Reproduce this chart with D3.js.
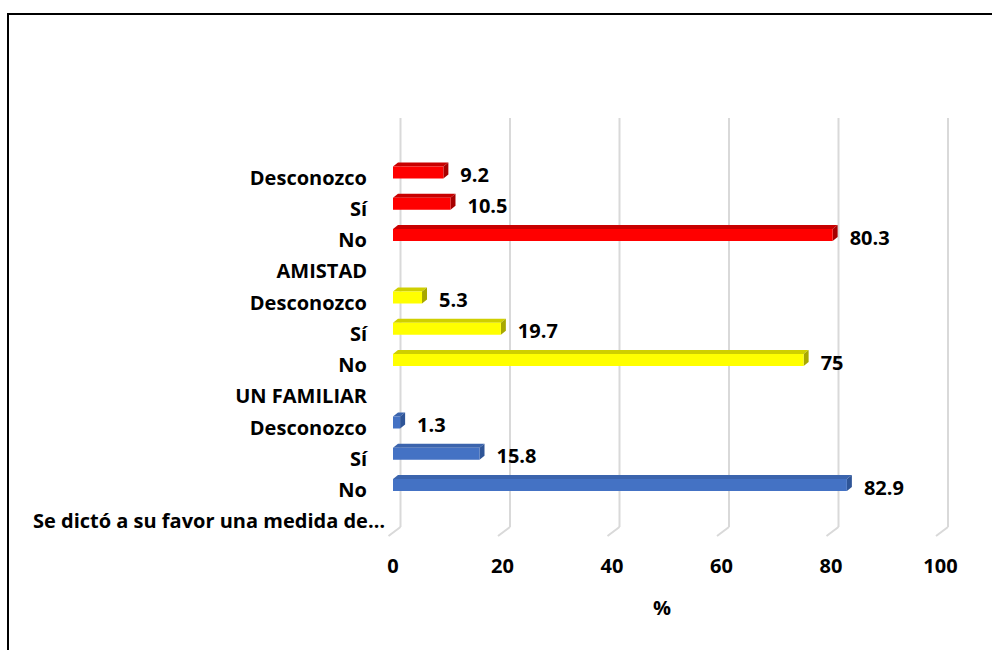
<!DOCTYPE html>
<html><head><meta charset="utf-8">
<script src="https://cdn.jsdelivr.net/npm/d3@7/dist/d3.min.js"></script>
<style>
html,body{margin:0;padding:0;background:#fff;}
svg{display:block;}
text{font-family:"Open Sans",sans-serif;font-weight:bold;fill:#000;}
</style></head>
<body>
<svg id="chart" width="992" height="650"></svg>
<script>
// Categories listed top to bottom as drawn
const categories = ["Desconozco","Sí","No","AMISTAD","Desconozco","Sí","No","UN FAMILIAR","Desconozco","Sí","No","Se dictó a su favor una medida de…"];
const values = [9.2,10.5,80.3,null,5.3,19.7,75,null,1.3,15.8,82.9,null];
const groupOf = [0,0,0,null,1,1,1,null,2,2,2,null];
const xTicks = [0,20,40,60,80,100];
const axisTitle = "%";

const palette = [
  {front:"#FF0000", top:"#C80000", side:"#A60000"},
  {front:"#FFFF00", top:"#CFCF00", side:"#A8A800"},
  {front:"#4472C4", top:"#3B64AD", side:"#2F5597"}
];

const FS = 20;
const svg = d3.select("#chart");

// frame
svg.append("path").attr("d","M8,650V14H992").attr("fill","none").attr("stroke","#000").attr("stroke-width",2);

const x = d3.scaleLinear().domain([0,100]).range([393,940.5]);
const backDx = 7.5;
const y = d3.scaleBand().domain(d3.range(categories.length)).range([156.875,531.875]).paddingInner(0).paddingOuter(0);
const bh = 12, dx = 5, dy = 4;

// gridlines (back wall) and floor edges
const grid = svg.append("g");
xTicks.forEach(t=>{
  const xb = x(t)+backDx;
  grid.append("line").attr("x1",xb).attr("x2",xb).attr("y1",118).attr("y2",527)
    .attr("stroke","#D9D9D9").attr("stroke-width",2);
  grid.append("line").attr("x1",xb).attr("x2",xb-12).attr("y1",527).attr("y2",536)
    .attr("stroke","#D9D9D9").attr("stroke-width",2);
});

// x tick labels
svg.append("g").selectAll("text").data(xTicks).join("text")
  .attr("x",d=>x(d)).attr("y",566).attr("dy","0.35em").attr("text-anchor","middle")
  .attr("font-size",FS).text(d=>d);

svg.append("text").attr("x",662).attr("y",608).attr("dy","0.35em").attr("text-anchor","middle")
  .attr("font-size",FS).text(axisTitle);

// category labels
svg.append("g").selectAll("text").data(categories).join("text")
  .attr("x",(d,i)=> i===categories.length-1 ? 385 : 367)
  .attr("y",(d,i)=>y(i)+y.bandwidth()/2+5).attr("dy","0.35em").attr("text-anchor","end")
  .attr("font-size",FS).text(d=>d);

// bars
const barData = values.map((v,i)=>({v,i,g:groupOf[i]})).filter(d=>d.v!==null);
const bars = svg.append("g").selectAll("g").data(barData).join("g");
bars.each(function(d){
  const g = d3.select(this);
  const c = palette[d.g];
  const x0 = x(0), x1 = x(d.v);
  const yc = y(d.i)+y.bandwidth()/2;
  const yt = yc-bh/2, yb = yc+bh/2;
  // top face
  g.append("path").attr("d",`M${x0},${yt}L${x0+dx},${yt-dy}L${x1+dx},${yt-dy}L${x1},${yt}Z`).attr("fill",c.top);
  // side face
  g.append("path").attr("d",`M${x1},${yt}L${x1+dx},${yt-dy}L${x1+dx},${yb-dy}L${x1},${yb}Z`).attr("fill",c.side);
  // front face
  g.append("rect").attr("x",x0).attr("y",yt).attr("width",x1-x0).attr("height",bh).attr("fill",c.front);
  // value label
  g.append("text").attr("x",x1+17).attr("y",yc+2.5).attr("dy","0.35em").attr("font-size",FS).text(d.v);
});
</script>
</body></html>
